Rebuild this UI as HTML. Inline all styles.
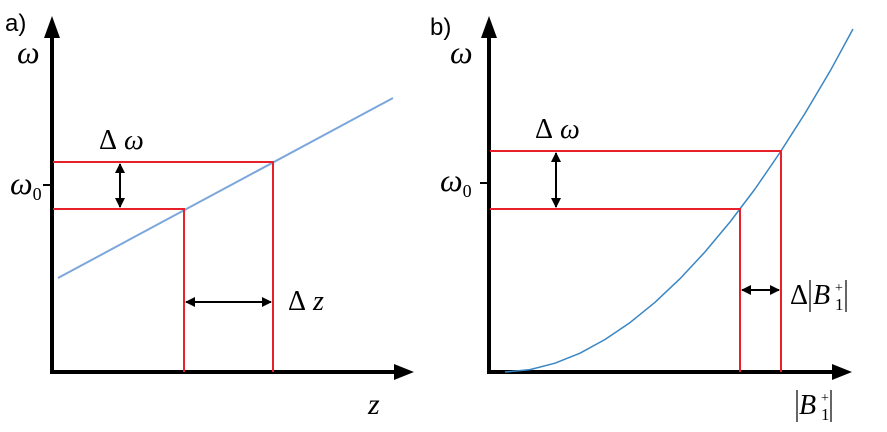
<!DOCTYPE html>
<html><head><meta charset="utf-8"><style>body{margin:0;background:#fff}svg{display:block}</style></head><body>
<svg width="887" height="432" viewBox="0 0 887 432" xmlns="http://www.w3.org/2000/svg">
<defs>
<marker id="ah" markerWidth="10" markerHeight="10" refX="9" refY="5" orient="auto-start-reverse" markerUnits="userSpaceOnUse"><path d="M0,0 L10,5 L0,10z" fill="#000"/></marker>
</defs>
<g font-family="Liberation Serif, serif" font-style="italic" fill="#000">
<!-- Panel a -->
<text x="5" y="31" font-family="Liberation Sans, sans-serif" font-style="normal" font-size="24">a)</text>
<line x1="52" y1="374" x2="52" y2="36" stroke="#000" stroke-width="4"/>
<path d="M44,38 L52,16 L60,38z" fill="#000"/>
<line x1="50" y1="372" x2="396" y2="372" stroke="#000" stroke-width="4"/>
<path d="M394,364 L414,372 L394,380z" fill="#000"/>
<line x1="43" y1="185" x2="52" y2="185" stroke="#000" stroke-width="2"/>
<line x1="58" y1="278" x2="393" y2="98" stroke="#7ba7dc" stroke-width="2"/>
<polyline points="53,162 273,162 273,372" fill="none" stroke="#e8202a" stroke-width="2"/>
<polyline points="53,209 184,209 184,372" fill="none" stroke="#e8202a" stroke-width="2"/>
<line x1="120" y1="164" x2="120" y2="207" stroke="#000" stroke-width="2" marker-start="url(#ah)" marker-end="url(#ah)"/>
<line x1="186" y1="302" x2="271" y2="302" stroke="#000" stroke-width="2" marker-start="url(#ah)" marker-end="url(#ah)"/>
<text x="17" y="63" font-size="32">ω</text>
<text x="10" y="194" font-size="32">ω<tspan font-size="18" font-style="normal" dy="6">0</tspan></text>
<text x="99" y="149" font-size="28"><tspan font-style="normal">Δ</tspan> ω</text>
<text x="288" y="310" font-size="28"><tspan font-style="normal">Δ</tspan> z</text>
<text x="368" y="414" font-size="30">z</text>
<!-- Panel b -->
<text x="430" y="35" font-family="Liberation Sans, sans-serif" font-style="normal" font-size="24">b)</text>
<line x1="489" y1="374" x2="489" y2="36" stroke="#000" stroke-width="4"/>
<path d="M481,38 L489,16 L497,38z" fill="#000"/>
<line x1="487" y1="372" x2="834" y2="372" stroke="#000" stroke-width="4"/>
<path d="M832,364 L852,372 L832,380z" fill="#000"/>
<line x1="480" y1="183" x2="489" y2="183" stroke="#000" stroke-width="2"/>
<polyline points="505,372 530,369.6 555,363.2 580,353.2 605,339.5 630,322.6 655,302.3 680,278.7 705,251.9 730,222 755,189 780,152.5 805,113.4 830,71.3 853,29" fill="none" stroke="#3a86c4" stroke-width="1.5" stroke-linejoin="round"/>
<polyline points="490,151 781,151 781,372" fill="none" stroke="#e8202a" stroke-width="2"/>
<polyline points="490,209 740,209 740,372" fill="none" stroke="#e8202a" stroke-width="2"/>
<line x1="556" y1="153" x2="556" y2="207" stroke="#000" stroke-width="2" marker-start="url(#ah)" marker-end="url(#ah)"/>
<line x1="742" y1="290" x2="779" y2="290" stroke="#000" stroke-width="2" marker-start="url(#ah)" marker-end="url(#ah)"/>
<text x="450" y="63" font-size="32">ω</text>
<text x="440" y="191" font-size="32">ω<tspan font-size="18" font-style="normal" dy="6">0</tspan></text>
<text x="535" y="138" font-size="28"><tspan font-style="normal">Δ</tspan> ω</text>
<text x="790" y="304" font-size="28" font-style="normal">Δ</text>
<line x1="810" y1="280" x2="810" y2="312" stroke="#000" stroke-width="1.2"/>
<text x="813" y="304" font-size="28">B</text>
<text x="835" y="292" font-size="14" font-style="normal">+</text>
<text x="835" y="310" font-size="17" font-style="normal">1</text>
<line x1="846" y1="280" x2="846" y2="312" stroke="#000" stroke-width="1.2"/>
<line x1="797" y1="390" x2="797" y2="422" stroke="#000" stroke-width="1.2"/>
<text x="799" y="414" font-size="28">B</text>
<text x="821" y="402" font-size="14" font-style="normal">+</text>
<text x="821" y="420" font-size="17" font-style="normal">1</text>
<line x1="831" y1="390" x2="831" y2="422" stroke="#000" stroke-width="1.2"/>
</g>
</svg>
</body></html>
